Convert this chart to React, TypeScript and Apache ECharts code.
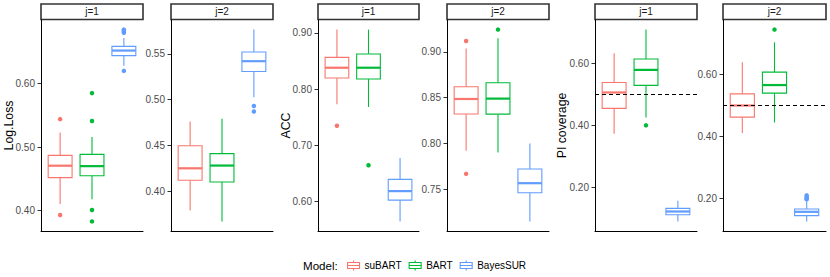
import React, { useEffect, useRef } from 'react';
import * as echarts from 'echarts';

// ---------- data ----------
const models = ['suBART', 'BART', 'BayesSUR'];
const modelColors = ['#F8766D', '#00BA38', '#619CFF'];
const stripLabels = ['j=1', 'j=2'];
const metricTitles = ['Log.Loss', 'ACC', 'PI coverage'];

// box stats per model: [lower whisker, q1, median, q3, upper whisker]
const logLossJ1 = [
  [0.4105, 0.452, 0.4707, 0.487, 0.523],
  [0.418, 0.455, 0.470, 0.4885, 0.516],
  [0.628, 0.644, 0.652, 0.6585, 0.6716],
];
const logLossJ1Outliers = [
  [0.544, 0.393],
  [0.585, 0.541, 0.401, 0.383],
  [0.620, 0.680, 0.682, 0.684, 0.685],
];
const logLossJ2 = [
  [0.379, 0.412, 0.425, 0.4497, 0.476],
  [0.367, 0.410, 0.428, 0.441, 0.479],
  [0.5025, 0.5307, 0.542, 0.552, 0.5765],
];
const logLossJ2Outliers = [[], [], [0.493, 0.487]];

const accJ1 = [
  [0.773, 0.8196, 0.838, 0.8565, 0.906],
  [0.768, 0.818, 0.838, 0.8626, 0.906],
  [0.564, 0.602, 0.618, 0.639, 0.677],
];
const accJ1Outliers = [[0.7345], [0.664], []];
const accJ2 = [
  [0.792, 0.8322, 0.8486, 0.862, 0.9037],
  [0.790, 0.832, 0.849, 0.8663, 0.915],
  [0.7147, 0.746, 0.7565, 0.772, 0.80],
];
const accJ2Outliers = [[0.912, 0.7667], [0.9245], []];

const piJ1 = [
  [0.372, 0.4537, 0.505, 0.5374, 0.632],
  [0.4245, 0.528, 0.578, 0.613, 0.708],
  [0.089, 0.1105, 0.121, 0.131, 0.156],
];
const piJ1Outliers = [[], [0.399], []];
const piJ2 = [
  [0.411, 0.4624, 0.50, 0.5377, 0.640],
  [0.445, 0.540, 0.566, 0.6077, 0.704],
  [0.126, 0.1446, 0.157, 0.166, 0.190],
];
const piJ2Outliers = [[], [0.745], [0.197, 0.201, 0.205, 0.210]];

const logLossTicksJ1 = [0.4, 0.5, 0.6];
const logLossTicksJ2 = [0.4, 0.45, 0.5, 0.55];
const accTicksJ1 = [0.6, 0.7, 0.8, 0.9];
const accTicksJ2 = [0.75, 0.8, 0.85, 0.9];
const piTicksJ1 = [0.2, 0.4, 0.6];
const piTicksJ2 = [0.2, 0.4, 0.6];
const piNominal = 0.5;

// ---------- layout ----------
const FONT = "'Liberation Sans', Arial, Helvetica, sans-serif";
const panelLefts = [41, 171, 318, 447, 595, 723];
const panelWidths = [102, 102, 101, 102, 102, 103];
const panelTop = 20;
const panelHeight = 211;
const stripTop = 4;
const stripHeight = 15.5;
const titleX = [9, 286, 562];

const panels = [
  { boxes: logLossJ1, outliers: logLossJ1Outliers, ticks: logLossTicksJ1, strip: 0, ref: null },
  { boxes: logLossJ2, outliers: logLossJ2Outliers, ticks: logLossTicksJ2, strip: 1, ref: null },
  { boxes: accJ1, outliers: accJ1Outliers, ticks: accTicksJ1, strip: 0, ref: null },
  { boxes: accJ2, outliers: accJ2Outliers, ticks: accTicksJ2, strip: 1, ref: null },
  { boxes: piJ1, outliers: piJ1Outliers, ticks: piTicksJ1, strip: 0, ref: piNominal },
  { boxes: piJ2, outliers: piJ2Outliers, ticks: piTicksJ2, strip: 1, ref: piNominal },
];

function buildOption() {
  const grid: any[] = [];
  const xAxis: any[] = [];
  const yAxis: any[] = [];
  const series: any[] = [];
  const graphic: any[] = [];

  panels.forEach((p, pi) => {
    const all = [...p.boxes.flat(), ...p.outliers.flat()];
    const lo = Math.min(...all);
    const hi = Math.max(...all);
    const pad = (hi - lo) * 0.05;
    grid.push({ left: panelLefts[pi], top: panelTop, width: panelWidths[pi], height: panelHeight });
    xAxis.push({
      gridIndex: pi, type: 'value', min: 0.4, max: 3.6,
      axisLine: { show: true, onZero: false, lineStyle: { color: '#000', width: 1 } },
      axisTick: { show: false }, axisLabel: { show: false }, splitLine: { show: false },
    });
    yAxis.push({
      gridIndex: pi, type: 'value', min: lo - pad, max: hi + pad,
      axisLine: { show: true, onZero: false, lineStyle: { color: '#000', width: 1 } },
      axisTick: { show: true, length: 3.5, lineStyle: { color: '#333', width: 1 }, customValues: p.ticks },
      axisLabel: {
        show: true, customValues: p.ticks, margin: 6, fontSize: 10, color: '#4D4D4D', fontFamily: FONT,
        formatter: (v: number) => v.toFixed(2),
      },
      splitLine: { show: false },
    });

    p.boxes.forEach((b, mi) => {
      const color = modelColors[mi];
      series.push({
        type: 'custom', name: models[mi], xAxisIndex: pi, yAxisIndex: pi,
        encode: { x: 0, y: [1, 2, 3, 4, 5] },
        data: [[mi + 1, ...b]],
        renderItem: (params: any, api: any) => {
          const x = api.value(0);
          const lw = api.coord([x, api.value(1)]);
          const q1 = api.coord([x, api.value(2)]);
          const md = api.coord([x, api.value(3)]);
          const q3 = api.coord([x, api.value(4)]);
          const hw = api.coord([x, api.value(5)]);
          const half = api.size([0.75, 0])[0] / 2;
          const cx = lw[0];
          const ls = { stroke: color, lineWidth: 1.1 };
          return {
            type: 'group',
            children: [
              { type: 'line', shape: { x1: cx, y1: hw[1], x2: cx, y2: q3[1] }, style: ls },
              { type: 'line', shape: { x1: cx, y1: q1[1], x2: cx, y2: lw[1] }, style: ls },
              { type: 'rect', shape: { x: cx - half, y: q3[1], width: half * 2, height: q1[1] - q3[1] }, style: { fill: '#fff', stroke: color, lineWidth: 1.1 } },
              { type: 'line', shape: { x1: cx - half, y1: md[1], x2: cx + half, y2: md[1] }, style: { stroke: color, lineWidth: 2.2 } },
            ],
          };
        },
      });
      if (p.outliers[mi].length) {
        series.push({
          type: 'scatter', name: models[mi], xAxisIndex: pi, yAxisIndex: pi,
          symbol: 'circle', symbolSize: 4.5,
          itemStyle: { color, opacity: 1 },
          data: p.outliers[mi].map((v) => [mi + 1, v]),
          z: 3,
        });
      }
    });

    if (p.ref !== null) {
      series.push({
        type: 'scatter', name: 'ref', xAxisIndex: pi, yAxisIndex: pi, data: [], silent: true,
        markLine: {
          silent: true, symbol: ['none', 'none'], label: { show: false },
          lineStyle: { color: '#000', width: 1, type: [4, 3] },
          data: [{ yAxis: p.ref }],
        },
      });
    }

    // strip
    graphic.push({
      type: 'rect', x: panelLefts[pi], y: stripTop,
      shape: { x: 0, y: 0, width: panelWidths[pi], height: stripHeight },
      style: { fill: '#fff', stroke: '#333', lineWidth: 1.6 },
    });
    graphic.push({
      type: 'text', x: panelLefts[pi] + panelWidths[pi] / 2, y: stripTop + stripHeight / 2,
      style: { text: stripLabels[p.strip], fontSize: 10, fontFamily: FONT, fill: '#1A1A1A', textAlign: 'center', textVerticalAlign: 'middle' },
    });
  });

  metricTitles.forEach((t, i) => {
    graphic.push({
      type: 'text', x: titleX[i], y: panelTop + panelHeight / 2, rotation: Math.PI / 2,
      style: { text: t, fontSize: 12.3, fontFamily: FONT, fill: '#000', textAlign: 'center', textVerticalAlign: 'middle' },
    });
  });

  graphic.push({
    type: 'text', x: 303, y: 265,
    style: { text: 'Model:', fontSize: 11.6, fontFamily: FONT, fill: '#000', textAlign: 'left', textVerticalAlign: 'middle' },
  });

  const iconPath = 'path://M6,0V2M0,2H12V8H0ZM0,5H12M6,8V10';

  return {
    animation: false,
    backgroundColor: '#fff',
    textStyle: { fontFamily: FONT },
    grid, xAxis, yAxis, series, graphic,
    legend: {
      left: 347, top: 260, itemWidth: 12, itemHeight: 10, itemGap: 7, itemTextGap: 7,
      padding: 0,
      selectedMode: false,
      textStyle: { fontSize: 10, color: '#000', fontFamily: FONT },
      data: models.map((m, i) => ({
        name: m, icon: iconPath,
        itemStyle: { color: '#fff', borderColor: modelColors[i], borderWidth: 1.1 },
      })),
    },
  };
}

export default function App() {
  const ref = useRef<HTMLDivElement>(null);
  useEffect(() => {
    document.body.style.margin = '0';
    if (!ref.current) return;
    const chart = echarts.init(ref.current, null, { renderer: 'svg' });
    chart.setOption(buildOption() as any);
    return () => chart.dispose();
  }, []);
  return <div ref={ref} style={{ width: 830, height: 277 }} />;
}
